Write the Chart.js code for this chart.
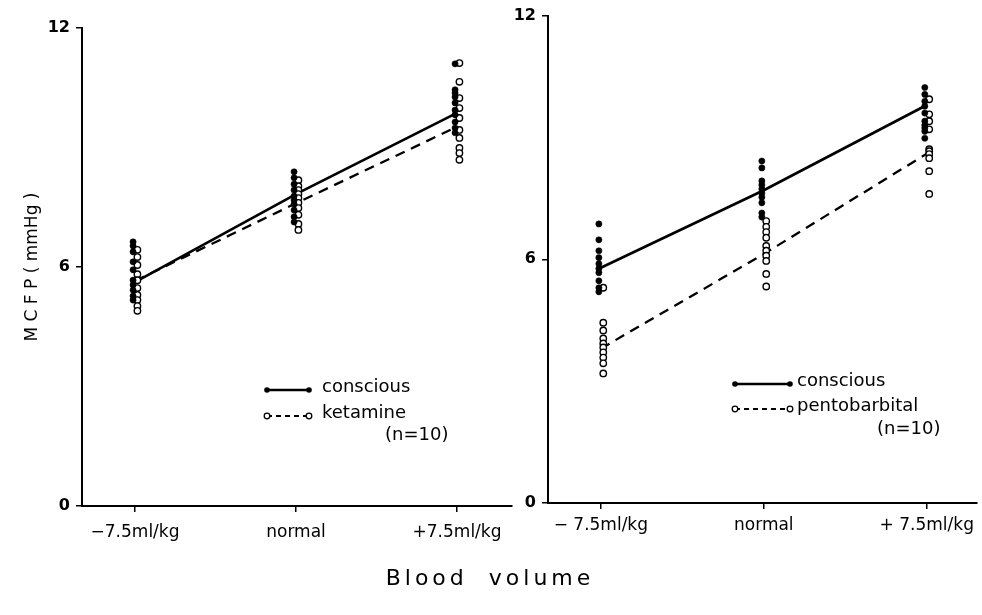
<!DOCTYPE html>
<html>
<head>
<meta charset="utf-8">
<title>MCFP vs blood volume</title>
<script src="https://cdn.jsdelivr.net/npm/chart.js@4.4.1/dist/chart.umd.min.js"></script>
<style>
  body { margin: 0; background: #fff; }
  #wrap { position: relative; width: 982px; height: 615px; }
  canvas { position: absolute; left: 0; top: 0; }
  #xlabel {
    position: absolute; left: 0; width: 980px; top: 565px;
    text-align: center; font: 22px "DejaVu Sans", sans-serif;
    letter-spacing: 4px; word-spacing: 10px; color: #000;
  }
</style>
</head>
<body>
<div id="wrap">
  <canvas id="left" width="982" height="615"></canvas>
  <canvas id="right" width="982" height="615"></canvas>
  <div id="xlabel">Blood volume</div>
</div>
<script>
// categories (blood volume state)
const leftCategories = ['−7.5ml/kg', 'normal', '+7.5ml/kg'];
const rightCategories = ['− 7.5ml/kg', 'normal', '+ 7.5ml/kg'];
const yTicks = [0, 6, 12];

// left panel: conscious vs ketamine, individual values per category
const ketConsciousPts = [
  [6.63, 6.53, 6.38, 6.13, 5.93, 5.67, 5.55, 5.42, 5.27, 5.17],
  [8.39, 8.24, 8.08, 7.93, 7.78, 7.68, 7.58, 7.43, 7.26, 7.13],
  [11.10, 10.45, 10.37, 10.27, 10.12, 9.94, 9.82, 9.64, 9.49, 9.37]
];
const ketaminePts = [
  [6.43, 6.25, 6.05, 5.82, 5.67, 5.47, 5.30, 5.17, 5.02, 4.90],
  [8.18, 8.03, 7.93, 7.83, 7.73, 7.61, 7.48, 7.31, 7.08, 6.93],
  [11.12, 10.65, 10.24, 9.99, 9.74, 9.44, 9.24, 8.99, 8.86, 8.69]
];
const ketConsciousLine = [5.62, 7.83, 9.87];
const ketamineLine = [5.65, 7.60, 9.52];

// right panel: conscious vs pentobarbital
const pentConsciousPts = [
  [6.87, 6.48, 6.21, 6.04, 5.89, 5.77, 5.67, 5.47, 5.30, 5.20],
  [8.42, 8.25, 7.93, 7.83, 7.73, 7.63, 7.53, 7.39, 7.14, 7.04],
  [10.23, 10.06, 9.89, 9.77, 9.60, 9.40, 9.30, 9.23, 9.15, 8.98]
];
const pentobarbitalPts = [
  [5.30, 4.44, 4.25, 4.05, 3.93, 3.83, 3.71, 3.58, 3.44, 3.19],
  [6.94, 6.80, 6.67, 6.53, 6.33, 6.21, 6.09, 5.96, 5.64, 5.33],
  [9.94, 9.57, 9.40, 9.20, 8.71, 8.66, 8.59, 8.49, 8.17, 7.61]
];
const pentConsciousLine = [5.79, 7.70, 9.80];
const pentobarbitalLine = [3.80, 6.13, 8.60];

const FONT = 'DejaVu Sans';
const Y_W = 60, X_H = 40;

function toPoints(groups, shift) {
  const out = [];
  groups.forEach((vals, i) => vals.forEach(v => out.push({ x: i + shift, y: v })));
  return out;
}
function toLine(vals) {
  return vals.map((v, i) => ({ x: i, y: v }));
}

// draws the little in-plot legend next to the lines
const panelLegend = {
  id: 'panelLegend',
  afterDatasetsDraw(chart, args, opts) {
    const ctx = chart.ctx;
    ctx.save();
    ctx.fillStyle = '#000';
    ctx.strokeStyle = '#000';
    opts.items.forEach((it, k) => {
      const y = opts.y + k * opts.gap;
      ctx.lineWidth = it.dash.length ? 2 : 2.6;
      ctx.setLineDash(it.dash);
      ctx.beginPath();
      ctx.moveTo(opts.x0, y);
      ctx.lineTo(opts.x1, y);
      ctx.stroke();
      ctx.setLineDash([]);
      [opts.x0, opts.x1].forEach(px => {
        ctx.beginPath();
        ctx.arc(px, y, 2.8, 0, Math.PI * 2);
        if (it.filled) { ctx.fill(); }
        else { ctx.fillStyle = '#fff'; ctx.fill(); ctx.fillStyle = '#000'; ctx.lineWidth = 1.3; ctx.stroke(); }
      });
      ctx.font = '18px "' + FONT + '"';
      ctx.textBaseline = 'middle';
      ctx.fillText(it.label, opts.tx, y - 3);
    });
    ctx.fillText(opts.note, opts.nx, opts.ny);
    ctx.restore();
  }
};

function makePanel(id, cats, area, consPts, drugPts, consLine, drugLine, drugLabel, legend, yTitle) {
  const pxPerUnit = (area.tick2 - area.tick0) / 2;
  return new Chart(document.getElementById(id), {
    type: 'scatter',
    data: {
      datasets: [
        { label: 'conscious pts', data: toPoints(consPts, -0.012), pointRadius: 3.1,
          pointBackgroundColor: '#000', pointBorderColor: '#000', pointBorderWidth: 0.5 },
        { label: drugLabel + ' pts', data: toPoints(drugPts, 0.015), pointRadius: 3.2,
          pointBackgroundColor: '#fff', pointBorderColor: '#000', pointBorderWidth: 1.4 },
        { label: 'conscious', data: toLine(consLine), showLine: true, pointRadius: 0,
          borderColor: '#000', borderWidth: 2.7 },
        { label: drugLabel, data: toLine(drugLine), showLine: true, pointRadius: 0,
          borderColor: '#000', borderWidth: 2.3, borderDash: [10, 7] }
      ]
    },
    options: {
      responsive: false,
      animation: false,
      layout: {
        padding: { left: area.left - Y_W, right: 982 - area.right, top: area.top, bottom: 615 - area.bottom - X_H }
      },
      scales: {
        x: {
          type: 'linear',
          min: -(area.tick0 - area.left) / pxPerUnit,
          max: 2 + (area.right - area.tick2) / pxPerUnit,
          afterBuildTicks: s => { s.ticks = [0, 1, 2].map(v => ({ value: v })); },
          afterFit: s => { s.height = X_H; },
          border: { display: true, color: '#000', width: 2 },
          grid: { drawOnChartArea: false, drawTicks: true, tickLength: 6, color: '#000', lineWidth: 1.5 },
          ticks: { color: '#000', padding: area.labelPad, maxRotation: 0, font: { family: FONT, size: 17 },
                   callback: v => cats[v] }
        },
        y: {
          min: 0, max: 12,
          afterBuildTicks: s => { s.ticks = yTicks.map(v => ({ value: v })); },
          afterFit: s => { s.width = Y_W; },
          border: { display: true, color: '#000', width: 2 },
          grid: { drawOnChartArea: false, drawTicks: true, tickLength: 6, color: '#000', lineWidth: 1.5 },
          ticks: { color: '#000', padding: 6, font: { family: FONT, size: 16, weight: 'bold' } },
          title: { display: !!yTitle, text: yTitle || '', color: '#000', padding: 0,
                   font: { family: FONT, size: 17 } }
        }
      },
      plugins: {
        legend: { display: false },
        tooltip: { enabled: false },
        panelLegend: legend
      }
    },
    plugins: [panelLegend]
  });
}

makePanel('left', leftCategories,
  { left: 82, right: 512, top: 28, bottom: 506, tick0: 135, tick2: 457, labelPad: 10 },
  ketConsciousPts, ketaminePts, ketConsciousLine, ketamineLine, 'ketamine',
  { x0: 267, x1: 309, tx: 322, y: 390, gap: 26,
    items: [{ label: 'conscious', dash: [], filled: true }, { label: 'ketamine', dash: [5, 4], filled: false }],
    note: '(n=10)', nx: 385, ny: 435 },
  'M C F P ( mmHg )');

makePanel('right', rightCategories,
  { left: 548, right: 978, top: 14, bottom: 503, tick0: 601, tick2: 928, labelPad: 6 },
  pentConsciousPts, pentobarbitalPts, pentConsciousLine, pentobarbitalLine, 'pentobarbital',
  { x0: 735, x1: 790, tx: 797, y: 384, gap: 25,
    items: [{ label: 'conscious', dash: [], filled: true }, { label: 'pentobarbital', dash: [5, 4], filled: false }],
    note: '(n=10)', nx: 877, ny: 429 },
  null);
</script>
</body>
</html>
